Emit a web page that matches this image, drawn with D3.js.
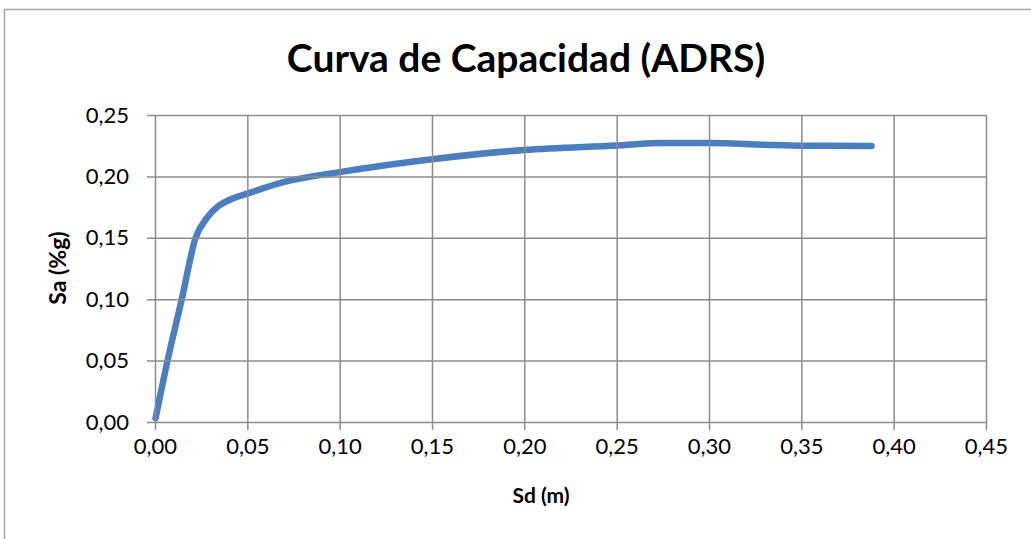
<!DOCTYPE html>
<html>
<head>
<meta charset="utf-8">
<script src="https://cdn.jsdelivr.net/npm/d3@7"></script>
<style>
  body { margin: 0; background: #fff; }
  svg text { font-family: Lato, "Open Sans", sans-serif; fill: #000; }
</style>
</head>
<body>
<div id="chart"></div>
<script>
// capacity curve, Sd (m) vs Sa (%g)
const sdValues = [0.0003, 0.0068, 0.0145, 0.022, 0.028, 0.042, 0.050, 0.070, 0.100, 0.150, 0.200, 0.250, 0.275, 0.300, 0.330, 0.350, 0.388];
const saValues = [0.003, 0.050, 0.100, 0.150, 0.166, 0.182, 0.186, 0.1955, 0.2035, 0.214, 0.2215, 0.2252, 0.2272, 0.2272, 0.2258, 0.2250, 0.2248];
const xTicks = [0, 0.05, 0.10, 0.15, 0.20, 0.25, 0.30, 0.35, 0.40, 0.45];
const yTicks = [0, 0.05, 0.10, 0.15, 0.20, 0.25];

const width = 1031, height = 539;
const margin = { left: 155, right: 45, top: 115, bottom: 117 };
const fmt = d => d3.format(".2f")(d).replace(".", ",");

const svg = d3.select("#chart").append("svg")
  .attr("width", width)
  .attr("height", height);

// chart frame
svg.append("rect")
  .attr("x", 4.5).attr("y", 9.5)
  .attr("width", width + 10).attr("height", height + 10)
  .attr("fill", "none")
  .attr("stroke", "#a6a6a6")
  .attr("stroke-width", 1.5);

const x = d3.scaleLinear().domain([0, 0.45]).range([margin.left, width - margin.right]);
const y = d3.scaleLinear().domain([0, 0.25]).range([height - margin.bottom, margin.top]);

const data = sdValues.map((d, i) => ({ sd: d, sa: saValues[i] }));

const line = d3.line()
  .x(d => x(d.sd))
  .y(d => y(d.sa))
  .curve(d3.curveMonotoneX);

svg.append("path")
  .datum(data)
  .attr("fill", "none")
  .attr("stroke", "#4a7ebf")
  .attr("stroke-width", 6.5)
  .attr("stroke-linecap", "round")
  .attr("stroke-linejoin", "round")
  .attr("d", line);

// gridlines sit above the line, as in the original
const gridColor = "#8c8c8c";
svg.append("g")
  .attr("transform", `translate(0,${y(0)})`)
  .call(d3.axisBottom(x).tickValues(xTicks).tickFormat(fmt)
    .tickSize(-(y(0) - y(0.25))).tickSizeOuter(0))
  .call(g => g.select(".domain").remove())
  .call(g => g.selectAll(".tick line").attr("stroke", gridColor).attr("stroke-width", 1.5).attr("y2", 8)
    .clone().attr("y2", -(y(0) - y(0.25))))
  .call(g => g.selectAll(".tick text").attr("font-size", 22).attr("y", 16).attr("dy", "0.71em"));

svg.append("g")
  .attr("transform", `translate(${x(0)},0)`)
  .call(d3.axisLeft(y).tickValues(yTicks).tickFormat(fmt)
    .tickSize(8).tickSizeOuter(0))
  .call(g => g.select(".domain").remove())
  .call(g => g.selectAll(".tick line").attr("stroke", gridColor).attr("stroke-width", 1.5)
    .attr("x1", x(0.45) - x(0)))
  .call(g => g.selectAll(".tick text").attr("font-size", 22).attr("x", -26));

svg.append("text")
  .attr("x", 526).attr("y", 72)
  .attr("text-anchor", "middle")
  .attr("font-size", 39)
  .attr("font-weight", "bold")
  .text("Curva de Capacidad (ADRS)");

svg.append("text")
  .attr("x", 541).attr("y", 503)
  .attr("text-anchor", "middle")
  .attr("font-size", 21)
  .attr("font-weight", "bold")
  .text("Sd (m)");

svg.append("text")
  .attr("transform", "translate(66,268) rotate(-90)")
  .attr("text-anchor", "middle")
  .attr("font-size", 23)
  .attr("font-weight", "bold")
  .text("Sa (%g)");
</script>
</body>
</html>
